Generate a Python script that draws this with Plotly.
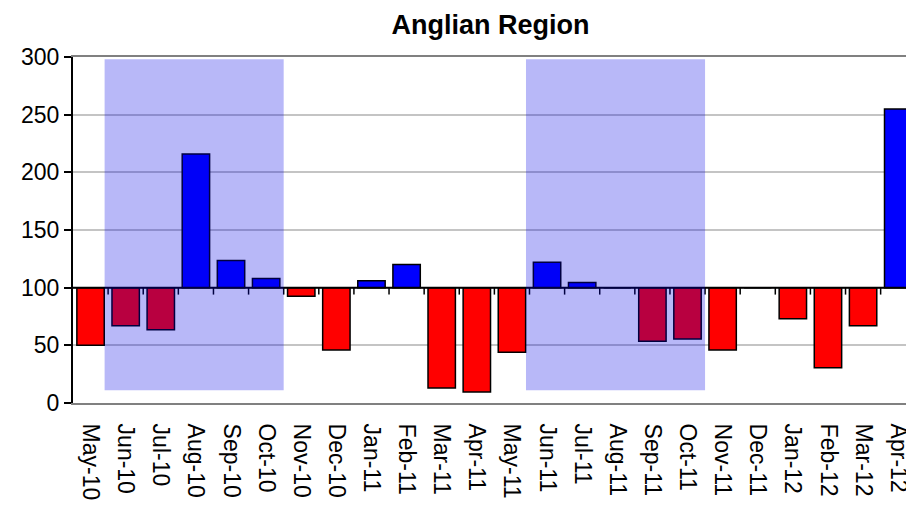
import plotly.graph_objects as go

# monthly index values, base 100
months = ["May-10", "Jun-10", "Jul-10", "Aug-10", "Sep-10", "Oct-10", "Nov-10", "Dec-10",
          "Jan-11", "Feb-11", "Mar-11", "Apr-11", "May-11", "Jun-11", "Jul-11", "Aug-11",
          "Sep-11", "Oct-11", "Nov-11", "Dec-11", "Jan-12", "Feb-12", "Mar-12", "Apr-12"]
values = [50, 67, 63.5, 216, 123.5, 108, 92.5, 46,
          106, 120, 13, 9.5, 44, 122, 104.5, 100,
          53.5, 55.5, 46, 100, 73, 30.5, 67, 255]
baseline = 100

# shaded summer periods (first month, last month)
shaded = [("Jun-10", "Oct-10"), ("Jun-11", "Oct-11")]

colors = ["#0000ff" if v >= baseline else "#ff0000" for v in values]

fig = go.Figure()
fig.add_trace(go.Bar(
    x=months,
    y=[v - baseline for v in values],
    base=[baseline] * len(values),
    marker=dict(color=colors, line=dict(color="black", width=1.5)),
    hovertemplate="%{x}: %{customdata}<extra></extra>",
    customdata=values,
))

shapes = []
# baseline axis at 100 with category tick marks
shapes.append(dict(type="line", xref="x", yref="y", x0=-0.5, x1=len(months) - 0.5,
                   y0=baseline, y1=baseline, line=dict(color="black", width=2), layer="above"))
for i in range(1, len(months)):
    shapes.append(dict(type="line", xref="x", yref="y", x0=i - 0.5, x1=i - 0.5,
                       y0=baseline, y1=baseline - 6, line=dict(color="black", width=1.5),
                       layer="above"))
for start, end in shaded:
    shapes.append(dict(type="rect", xref="x", yref="y",
                       x0=months.index(start) - 0.6, x1=months.index(end) + 0.5,
                       y0=11, y1=298, fillcolor="rgba(0,0,230,0.28)",
                       line=dict(width=0), layer="above"))

# page body adds an 8px margin, so margins are shifted to compensate
fig.update_layout(
    width=914, height=505,
    margin=dict(l=65, r=8, t=49, b=110),
    paper_bgcolor="white", plot_bgcolor="white",
    font=dict(family="Liberation Sans, Arial", size=23, color="black"),
    title=dict(text="<b>Anglian Region</b>", x=0.528, xanchor="center",
               y=0.985, yanchor="top", font=dict(size=27)),
    showlegend=False,
    bargap=0.22,
    shapes=shapes,
    xaxis=dict(range=[-0.5, 23.45], tickangle=90, ticks="", showgrid=False,
               showline=True, mirror=True, linecolor="#808080", linewidth=2,
               ticklabelstandoff=14),
    yaxis=dict(range=[0, 300], dtick=50, showgrid=True, gridcolor="#c4c4c4", gridwidth=1.5,
               zeroline=False, showline=True, linecolor="black", linewidth=2,
               ticks="outside", ticklen=7, tickcolor="black", tickwidth=2),
)

fig.write_html("out.html")
